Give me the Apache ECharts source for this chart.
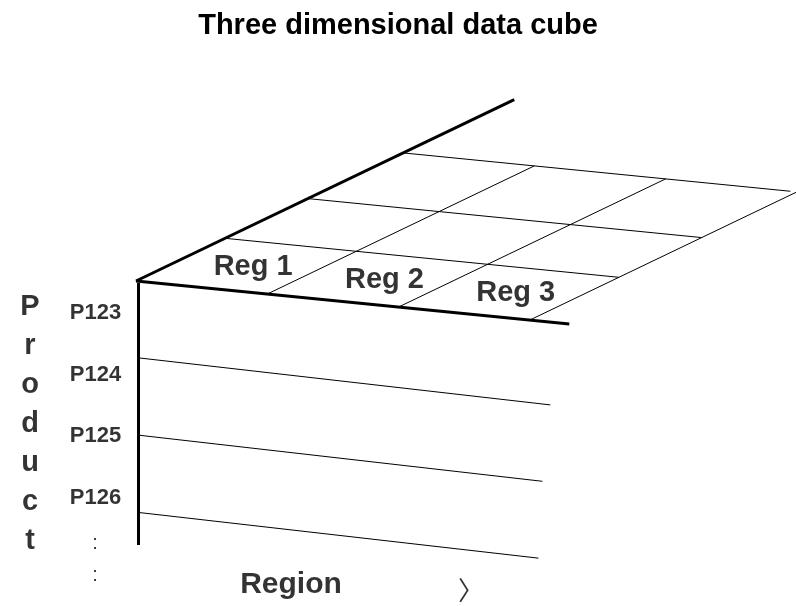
<!DOCTYPE html>
<html>
<head>
<meta charset="utf-8">
<script src="https://cdn.jsdelivr.net/npm/echarts@6/dist/echarts.min.js"></script>
<style>html,body{margin:0;padding:0;background:#fff}#c{width:796px;height:606px}</style>
</head>
<body>
<div id="c"></div>
<script>
// ---- content ----
const titleText = 'Three dimensional data cube';
const regions = ['Reg 1', 'Reg 2', 'Reg 3'];
const products = ['P123', 'P124', 'P125', 'P126'];
const moreMarks = [':', ':'];
const productAxisName = 'Product';
const regionAxisName = 'Region';
const arrowGlyph = '\u3009';

// ---- layout (pixel-space projection of the cube) ----
const L = {
  origin: [136, 281],
  regionVec: [131.3, 13.0],
  depthVec: [89, -42.7],
  depthSteps: [1, 1.93, 3],
  gridRegions: 3,
  backRowLen: 2.95,
  frontEdgeLen: 3.3,
  sideEdgeLen: 4.25,
  faceOrigin: [138, 280.5],
  faceRegionVec: [131.3, 15.0],
  productStep: 77.3,
  faceLineLen: [3.14, 3.08, 3.05],
  faceTop: 283, faceBottom: 545,
  regLabelOffset: [0.56, 0.49],
  prodLabelX: 95.5, prodLabelY0: 313, prodLabelStep: 61.7,
  moreX: 95, moreY: [543, 575],
  nameX: 30, nameY0: 306.5, nameStep: 39,
  regionNamePos: [291, 585],
  arrowPos: [471, 590]
};
const FONT = '"Liberation Sans", Arial, Helvetica, sans-serif';

function topPt(r, d) {
  return [L.origin[0] + r * L.regionVec[0] + d * L.depthVec[0],
          L.origin[1] + r * L.regionVec[1] + d * L.depthVec[1]];
}
function facePt(r, p) {
  return [L.faceOrigin[0] + r * L.faceRegionVec[0],
          L.faceOrigin[1] + r * L.faceRegionVec[1] + p * L.productStep];
}

const thickSegs = [
  { coords: [topPt(0, 0), topPt(L.frontEdgeLen, 0)] },
  { coords: [topPt(0, 0), topPt(0, L.sideEdgeLen)] },
  { coords: [[L.faceOrigin[0], L.faceTop], [L.faceOrigin[0], L.faceBottom]] }
];
const thinSegs = [];
const maxD = L.depthSteps[L.depthSteps.length - 1];
for (let r = 1; r <= regions.length; r++) thinSegs.push({ coords: [topPt(r, 0), topPt(r, maxD)] });
L.depthSteps.forEach((d, i) => {
  const len = i === L.depthSteps.length - 1 ? L.backRowLen : L.gridRegions;
  thinSegs.push({ coords: [topPt(0, d), topPt(len, d)] });
});
for (let p = 1; p < products.length; p++) thinSegs.push({ coords: [facePt(0, p), facePt(L.faceLineLen[p - 1], p)] });

const regLabels = regions.map((n, i) => ({ value: topPt(i + L.regLabelOffset[0], L.regLabelOffset[1]), name: n }));
const prodLabels = products.map((n, i) => ({ value: [L.prodLabelX, L.prodLabelY0 + i * L.prodLabelStep], name: n }));
const moreLabels = moreMarks.map((n, i) => ({ value: [L.moreX, L.moreY[i]], name: n }));
const nameLabels = productAxisName.split('').map((n, i) => ({ value: [L.nameX, L.nameY0 + i * L.nameStep], name: n }));

function labelSeries(data, fontSize, weight, family) {
  return {
    type: 'scatter', data: data, symbolSize: 1, silent: true,
    itemStyle: { color: 'rgba(0,0,0,0)' },
    label: { show: true, position: 'inside', formatter: p => p.name, color: '#000',
      fontSize: fontSize, fontWeight: weight, fontFamily: family || FONT }
  };
}

const chart = echarts.init(document.getElementById('c'), null, { renderer: 'canvas' });
chart.setOption({
  animation: false,
  backgroundColor: '#fff',
  title: { text: titleText, left: 'center', top: 6,
    textStyle: { fontSize: 29, fontWeight: 'bold', color: '#000', fontFamily: FONT } },
  grid: { left: 0, right: 0, top: 0, bottom: 0 },
  xAxis: { type: 'value', min: 0, max: 796, show: false },
  yAxis: { type: 'value', min: 0, max: 606, inverse: true, show: false },
  series: [
    { type: 'lines', coordinateSystem: 'cartesian2d', data: thickSegs, silent: true,
      lineStyle: { color: '#000', width: 3, opacity: 1, curveness: 0 } },
    { type: 'lines', coordinateSystem: 'cartesian2d', data: thinSegs, silent: true,
      lineStyle: { color: '#000', width: 1, opacity: 1, curveness: 0 } },
    labelSeries(regLabels, 29, 'bold'),
    labelSeries(prodLabels, 22, 'bold'),
    labelSeries(moreLabels, 20, 'normal'),
    labelSeries(nameLabels, 29, 'bold'),
    labelSeries([{ value: L.regionNamePos, name: regionAxisName }], 30, 'bold'),
    labelSeries([{ value: L.arrowPos, name: arrowGlyph }], 26, 'normal', '"Noto Sans CJK SC", sans-serif')
  ]
});
</script>
</body>
</html>
